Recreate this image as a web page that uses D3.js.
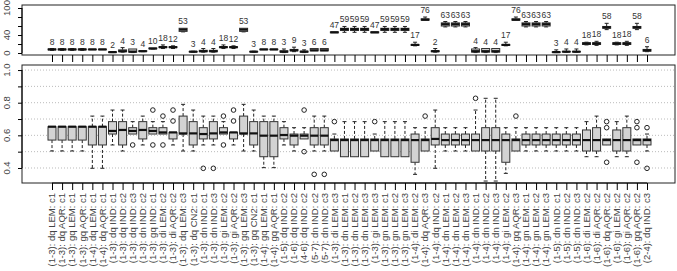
<!DOCTYPE html>
<html>
<head>
<meta charset="utf-8">
<script src="https://cdn.jsdelivr.net/npm/d3@7"></script>
<style>
  body { margin: 0; background: #fff; }
  svg { display: block; font-family: "Liberation Sans", Arial, sans-serif; }
</style>
</head>
<body>
<script>
// category labels (x axis)
const categories = [
  "(1-3): dq LEM: c1", "(1-3): dq AQR: c1", "(1-3): gq LEM: c1", "(1-3): gq AQR: c1",
  "(1-4): dq LEM: c1", "(1-4): dq AQR: c1", "(1-3): dq IND: c1", "(1-3): dq IND: c2",
  "(1-3): dq IND: c3", "(1-3): dn IND: c2", "(1-3): gq IND: c1", "(1-3): di LEM: c2",
  "(1-3): di AQR: c2", "(1-3): dq LEM: c3", "(1-3): dq CN2: c1", "(1-3): dn IND: c1",
  "(1-3): dn IND: c3", "(1-3): gi LEM: c2", "(1-3): gi AQR: c2", "(1-3): gq LEM: c3",
  "(1-3): gq CN2: c1", "(1-4): gq LEM: c1", "(1-4): gq AQR: c1", "(1-5): dq IND: c2",
  "(1-6): dq IND: c2", "(4-6): dq IND: c2", "(5-7): dn IND: c2", "(5-7): dn IND: c3",
  "(1-3): di LEM: c3", "(1-3): dn LEM: c1", "(1-3): dn LEM: c2", "(1-3): dn LEM: c3",
  "(1-3): gi LEM: c3", "(1-3): gn LEM: c1", "(1-3): gn LEM: c2", "(1-3): gn LEM: c3",
  "(1-4): di LEM: c2", "(1-4): dq AQR: c3", "(1-4): dq IND: c2", "(1-4): dn LEM: c1",
  "(1-4): dn LEM: c2", "(1-4): dn LEM: c3", "(1-4): dn IND: c1", "(1-4): dn IND: c2",
  "(1-4): dn IND: c3", "(1-4): gi LEM: c2", "(1-4): gq AQR: c3", "(1-4): gn LEM: c1",
  "(1-4): gn LEM: c2", "(1-4): gn LEM: c3", "(1-5): dn IND: c1", "(1-5): dn IND: c2",
  "(1-5): dn IND: c3", "(1-6): di LEM: c2", "(1-6): di AQR: c2", "(1-6): dq AQR: c2",
  "(1-6): gi LEM: c2", "(1-6): gi AQR: c2", "(1-6): gq AQR: c2", "(2-4): dq IND: c3"
];

// top panel: count labels and box stats
const topN   = [8,8,8,8,8,8,2,4,3,4,10,18,12,53,3,4,4,18,12,53,3,8,8,3,9,3,6,6,47,59,59,59,47,59,59,59,17,76,2,63,63,63,4,4,4,17,76,63,63,63,3,4,4,18,18,58,18,18,58,6];
const topLo  = [6,6,6,6,8,8,1,2,1,3,9,10,10,47,2,2,2,10,10,47,2,8,8,1,3,1,5,5,45,46,46,46,45,46,46,46,16,73,2,58,58,58,1,1,1,16,73,58,58,58,1,2,2,18,17,52,18,17,52,3];
const topQ1  = [7,7,7,7,7.5,7.5,1.5,3,2,3.5,9.5,12,12,48,2.5,3,3,12,12,48,2.5,7.5,7.5,2,5,2,5,5,45,50,50,50,45,50,50,50,17,73,3,60,60,60,2,2,2,17,73,60,60,60,1.5,2.5,2.5,19,19,55,19,19,55,4];
const topMed = [8,8,8,8,8,8,2,4,3,4,10,13,13,52,3,4,4,13,13,52,3,8,8,3,6,3,6,6,46,53,53,53,46,53,53,53,18,74,4,64,64,64,4,4,4,18,74,64,64,64,2,3,3,21,21,57,21,21,57,6];
const topQ3  = [9,9,9,9,8.5,8.5,2.5,7,9,5,11,14,14,55,3.5,6,6,14,14,55,3.5,8.5,8.5,5,8,4,10,10,47,55,55,55,47,55,55,55,19,76,5,67,67,67,9,10,10,19,76,67,67,67,2.5,3.5,3.5,23,23,59,23,23,59,8];
const topHi  = [10,10,10,10,8.5,8.5,3,12,9,5,11,18,16,55,4,10,10,18,16,55,4,8.5,8.5,9,13,7,10,10,47,59,59,59,47,59,59,59,24,80,10,70,70,70,12,10,10,24,80,70,70,70,7,9,9,24,26,66,24,26,66,14];

// bottom panel: box stats and outliers
const lowW  = [0.504,0.504,0.504,0.504,0.398,0.398,0.541,0.504,0.608,0.541,0.608,0.608,0.541,0.504,0.504,0.541,0.541,0.608,0.541,0.504,0.504,0.402,0.402,0.541,0.504,0.578,0.504,0.504,0.504,0.469,0.469,0.469,0.504,0.469,0.469,0.469,0.361,0.504,0.398,0.504,0.504,0.504,0.504,0.320,0.320,0.367,0.504,0.504,0.504,0.504,0.504,0.504,0.504,0.469,0.469,0.541,0.469,0.469,0.541,0.504];
const q1    = [0.571,0.571,0.571,0.571,0.541,0.541,0.608,0.541,0.608,0.578,0.608,0.608,0.578,0.608,0.541,0.578,0.578,0.608,0.578,0.608,0.541,0.469,0.469,0.578,0.541,0.578,0.541,0.541,0.504,0.469,0.469,0.469,0.504,0.469,0.469,0.469,0.435,0.504,0.541,0.541,0.541,0.541,0.504,0.504,0.504,0.435,0.504,0.541,0.541,0.541,0.541,0.541,0.541,0.504,0.504,0.541,0.504,0.504,0.541,0.541];
const median= [0.653,0.653,0.653,0.653,0.653,0.653,0.627,0.633,0.627,0.633,0.627,0.618,0.618,0.612,0.612,0.608,0.612,0.618,0.618,0.612,0.612,0.598,0.598,0.602,0.598,0.598,0.598,0.598,0.571,0.571,0.571,0.571,0.571,0.571,0.571,0.571,0.571,0.571,0.578,0.571,0.571,0.571,0.571,0.571,0.571,0.571,0.571,0.571,0.571,0.571,0.571,0.571,0.571,0.571,0.571,0.571,0.571,0.571,0.571,0.571];
const q3    = [0.653,0.653,0.653,0.653,0.653,0.653,0.684,0.684,0.647,0.684,0.647,0.647,0.618,0.718,0.684,0.647,0.684,0.647,0.618,0.718,0.684,0.684,0.684,0.647,0.608,0.608,0.647,0.647,0.578,0.578,0.578,0.578,0.578,0.578,0.578,0.578,0.608,0.578,0.647,0.608,0.608,0.608,0.608,0.647,0.647,0.608,0.578,0.608,0.608,0.608,0.608,0.608,0.608,0.633,0.647,0.578,0.633,0.647,0.578,0.578];
const highW = [0.653,0.653,0.653,0.653,0.718,0.718,0.755,0.755,0.684,0.718,0.684,0.684,0.618,0.790,0.755,0.718,0.718,0.684,0.618,0.790,0.755,0.718,0.718,0.684,0.647,0.647,0.718,0.718,0.608,0.684,0.684,0.684,0.608,0.684,0.684,0.684,0.647,0.647,0.755,0.647,0.647,0.647,0.755,0.827,0.827,0.647,0.647,0.647,0.647,0.647,0.647,0.647,0.647,0.684,0.718,0.578,0.684,0.718,0.578,0.608];
const outliers = [[],[],[],[],[],[],[],[],[0.541],[],[0.755,0.541],[0.718,0.541],[0.755,0.688],[],[],[0.398],[0.398],[0.718,0.541],[0.755,0.688],[],[],[],[],[],[],[0.755,0.5],[0.361],[0.361],[0.684],[],[],[],[0.684],[],[],[],[],[0.718],[],[],[],[],[0.827],[],[],[],[0.718],[],[],[],[],[],[],[],[],[0.684,0.647,0.435],[],[],[0.684,0.647,0.435],[0.647,0.398]];

const topTicks = [0, 20, 40, 60, 80, 100];
const topTickLabels = [0, 40, 100];
const botTicks = [0.4, 0.5, 0.6, 0.7, 0.8, 0.9, 1.0];
const botTickLabels = [0.4, 0.6, 0.8, 1.0];

const W = 677, H = 271;
const left = 22, right = 675;
const boxW = 8;

const svg = d3.select("body").append("svg").attr("width", W).attr("height", H);

const x = d3.scalePoint().domain(categories).range([52, 647]);

const yTop = d3.scaleLinear().domain([-4.4, 106.7]).range([55, 5]);
const yBot = d3.scaleLinear().domain([0.308, 1.031]).range([183, 65]);

function rows(lo, a, m, b, hi) {
  return categories.map((c, i) => ({ c, lo: lo[i], q1: a[i], med: m[i], q3: b[i], hi: hi[i] }));
}

function drawBoxes(g, data, y, opts) {
  let grp = g.selectAll(".bx").data(data).enter().append("g").attr("class", "bx");
  // whiskers
  grp.append("line")
    .attr("x1", d => x(d.c)).attr("x2", d => x(d.c))
    .attr("y1", d => y(d.q3)).attr("y2", d => y(d.hi))
    .attr("stroke", "#222").attr("stroke-dasharray", opts.dash).attr("stroke-width", 1);
  grp.append("line")
    .attr("x1", d => x(d.c)).attr("x2", d => x(d.c))
    .attr("y1", d => y(d.q1)).attr("y2", d => y(d.lo))
    .attr("stroke", "#222").attr("stroke-dasharray", opts.dash).attr("stroke-width", 1);
  // caps
  grp.filter(d => d.hi > d.q3).append("line")
    .attr("x1", d => x(d.c) - boxW / 4).attr("x2", d => x(d.c) + boxW / 4)
    .attr("y1", d => y(d.hi)).attr("y2", d => y(d.hi))
    .attr("stroke", "#222");
  grp.filter(d => d.lo < d.q1).append("line")
    .attr("x1", d => x(d.c) - boxW / 4).attr("x2", d => x(d.c) + boxW / 4)
    .attr("y1", d => y(d.lo)).attr("y2", d => y(d.lo))
    .attr("stroke", "#222");
  // box
  grp.append("rect")
    .attr("x", d => x(d.c) - boxW / 2)
    .attr("y", d => y(d.q3))
    .attr("width", boxW)
    .attr("height", d => Math.max(0.5, y(d.q1) - y(d.q3)))
    .attr("fill", "#d3d3d3").attr("stroke", "#333").attr("stroke-width", 1);
  // median
  grp.append("line")
    .attr("x1", d => x(d.c) - boxW / 2).attr("x2", d => x(d.c) + boxW / 2)
    .attr("y1", d => y(d.med)).attr("y2", d => y(d.med))
    .attr("stroke", "#111").attr("stroke-width", 2.2);
}

// ---- top panel
const gTop = svg.append("g");
gTop.append("rect").attr("x", left).attr("y", 5).attr("width", right - left).attr("height", 50)
  .attr("fill", "none").attr("stroke", "#222");
drawBoxes(gTop, rows(topLo, topQ1, topMed, topQ3, topHi), yTop, { dash: null });
gTop.selectAll(".nlab").data(categories).enter().append("text")
  .attr("x", d => x(d)).attr("y", (d, i) => yTop(topHi[i]) - 4)
  .attr("text-anchor", "middle").attr("font-size", 8.5).attr("fill", "#333")
  .text((d, i) => topN[i]);

// y axis top
gTop.append("g").attr("transform", `translate(${left},0)`)
  .call(d3.axisLeft(yTop).tickValues(topTicks).tickSize(4).tickFormat(""))
  .call(g => g.select(".domain").attr("d", `M0,${yTop(0)}V${yTop(100)}`));
gTop.selectAll(".ylabT").data(topTickLabels).enter().append("text")
  .attr("transform", d => `translate(10,${yTop(d)}) rotate(-90)`)
  .attr("text-anchor", "middle").attr("font-size", 9.5).attr("fill", "#444")
  .text(d => d);

// x ticks under top panel
gTop.append("g").attr("transform", "translate(0,55)")
  .call(d3.axisBottom(x).tickSize(7).tickFormat(""))
  .call(g => g.select(".domain").remove());

// ---- bottom panel
const gBot = svg.append("g");
gBot.selectAll(".grid").data(botTicks).enter().append("line")
  .attr("x1", left).attr("x2", right)
  .attr("y1", d => yBot(d)).attr("y2", d => yBot(d))
  .attr("stroke", "#aaa").attr("stroke-dasharray", "1,2").attr("stroke-width", 0.8);
drawBoxes(gBot, rows(lowW, q1, median, q3, highW), yBot, { dash: "3,2" });
categories.forEach((c, i) => {
  gBot.selectAll(null).data(outliers[i]).enter().append("circle")
    .attr("cx", x(c)).attr("cy", d => yBot(d)).attr("r", 2.3)
    .attr("fill", "none").attr("stroke", "#222").attr("stroke-width", 1);
});
gBot.append("rect").attr("x", left).attr("y", 65).attr("width", right - left).attr("height", 118)
  .attr("fill", "none").attr("stroke", "#222");

gBot.append("g").attr("transform", `translate(${left},0)`)
  .call(d3.axisLeft(yBot).tickValues(botTicks).tickSize(4).tickFormat(""))
  .call(g => g.select(".domain").attr("d", `M0,${yBot(0.4)}V${yBot(1.0)}`));
gBot.selectAll(".ylabB").data(botTickLabels).enter().append("text")
  .attr("transform", d => `translate(10,${yBot(d)}) rotate(-90)`)
  .attr("text-anchor", "middle").attr("font-size", 9.5).attr("fill", "#444")
  .text(d => d3.format(".1f")(d));

// x axis bottom
gBot.append("g").attr("transform", "translate(0,183)")
  .call(d3.axisBottom(x).tickSize(7).tickFormat(""))
  .call(g => g.select(".domain").attr("d", `M${x(categories[0])},0H${x(categories[categories.length - 1])}`));
gBot.selectAll(".xlab").data(categories).enter().append("text")
  .attr("transform", d => `translate(${x(d)},193) rotate(-90)`)
  .attr("text-anchor", "end").attr("dy", "0.35em")
  .attr("font-size", 9.5).attr("fill", "#444")
  .text(d => d);
</script>
</body>
</html>
